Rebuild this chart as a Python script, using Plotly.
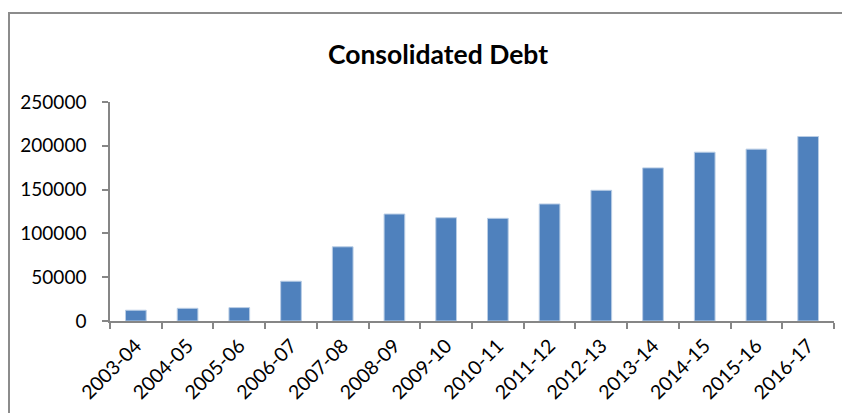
import plotly.graph_objects as go

years = ["2003-04", "2004-05", "2005-06", "2006-07", "2007-08", "2008-09", "2009-10",
         "2010-11", "2011-12", "2012-13", "2013-14", "2014-15", "2015-16", "2016-17"]
debt = [12300, 14500, 15300, 45400, 84700, 122100, 117900,
        117200, 133600, 149200, 174800, 192700, 196200, 210600]
y_ticks = [0, 50000, 100000, 150000, 200000, 250000]

# page body has an 8px margin; figure sized/positioned to compensate
W, H = 842, 405
L, R, T, B = 102, 16, 94, 92
pw, ph = W - L - R, H - T - B

fig = go.Figure()
fig.add_trace(go.Bar(
    x=years, y=debt,
    marker=dict(color="#4F81BD", line=dict(color="#B9CDE5", width=1)),
))

def px_to_paper_x(px):
    return (px - L) / pw

def px_to_paper_y(py):
    return (H - B - py) / ph

fig.add_shape(type="rect", xref="paper", yref="paper",
              x0=px_to_paper_x(1), x1=px_to_paper_x(900),
              y0=px_to_paper_y(450), y1=px_to_paper_y(5),
              line=dict(color="#8C8C8C", width=2), fillcolor="rgba(0,0,0,0)", layer="below")

fig.update_layout(
    width=W, height=H,
    margin=dict(l=L, r=R, t=T, b=B),
    paper_bgcolor="white", plot_bgcolor="white",
    showlegend=False,
    bargap=0.6,
    font=dict(family="Lato", size=19, color="black"),
    title=dict(text="<b>Consolidated Debt</b>", x=430 / W, xanchor="center",
               y=1 - 47 / H, yanchor="middle", yref="container",
               font=dict(family="Lato", size=26.5, color="black")),
    xaxis=dict(type="category", showline=True, linecolor="#868686", linewidth=1.5,
               ticks="outside", tickson="boundaries", ticklen=6, tickcolor="#868686",
               tickwidth=1.5, tickangle=-45, showgrid=False, zeroline=False,
               ticklabelstandoff=4, automargin=False,
               tickfont=dict(family="Lato", size=19.5, color="black")),
    yaxis=dict(range=[0, 250000], tickvals=y_ticks, ticktext=[str(v) for v in y_ticks],
               showline=True, linecolor="#868686", linewidth=1.5,
               ticks="outside", ticklen=6, tickcolor="#868686", tickwidth=1.5,
               showgrid=False, zeroline=False, ticklabelstandoff=12, automargin=False,
               tickfont=dict(family="Lato", size=19, color="black")),
)

fig.write_html("out.html")
